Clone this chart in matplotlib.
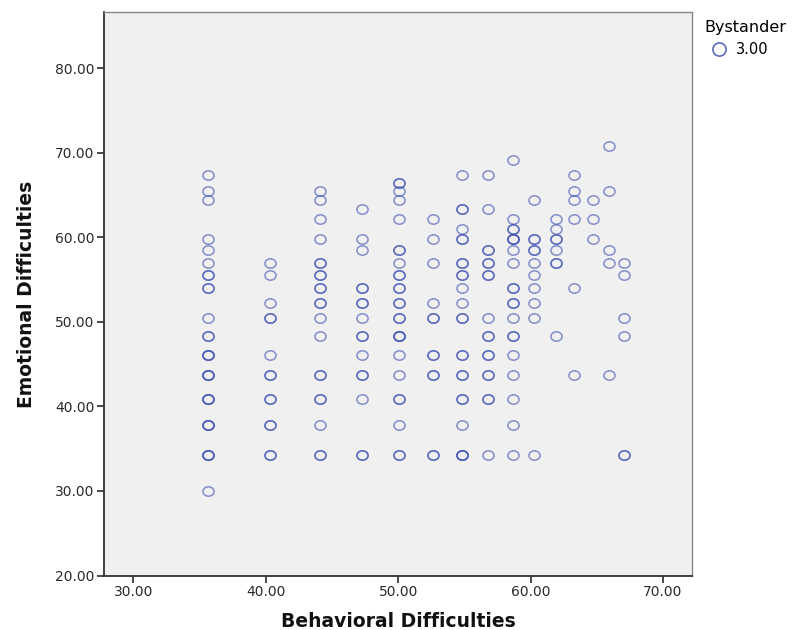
import matplotlib.pyplot as plt
from matplotlib.lines import Line2D
from matplotlib.path import Path
from matplotlib.transforms import Affine2D
from matplotlib.ticker import FormatStrFormatter

# ---------------------------------------------------------------
# Data (repeated values = overlapping cases)
# ---------------------------------------------------------------

behavioral_levels = [35.6, 40.3, 44.1, 47.3, 50.1, 52.6, 54.8, 56.8,
                     58.65, 60.3, 61.9, 63.3, 64.7, 65.9, 67.1]

emotional_by_column = [
    # 35.6
    [67.4, 65.5, 64.4, 59.8, 58.5, 57.0, 55.5, 55.5, 54.0, 54.0, 50.4,
     48.3, 48.3, 46.1, 46.1, 46.1, 43.7, 43.7, 43.7, 40.9, 40.9, 40.9,
     37.85, 37.85, 37.85, 34.3, 34.3, 34.3, 30.0],
    # 40.3
    [57.0, 55.5, 52.2, 50.4, 50.4, 46.1, 43.7, 43.7, 40.9, 40.9,
     37.85, 37.85, 34.3, 34.3],
    # 44.1
    [65.5, 64.4, 62.2, 59.8, 57.0, 57.0, 55.5, 55.5, 54.0, 54.0,
     52.2, 52.2, 50.4, 48.3, 43.7, 43.7, 40.9, 40.9, 37.85, 34.3, 34.3],
    # 47.3
    [63.3, 59.8, 58.5, 54.0, 54.0, 52.2, 52.2, 50.4, 48.3, 48.3,
     46.1, 43.7, 43.7, 40.9, 34.3, 34.3],
    # 50.1
    [66.4, 66.4, 65.5, 64.4, 62.2, 58.5, 58.5, 57.0, 55.5, 55.5,
     54.0, 54.0, 52.2, 52.2, 50.4, 50.4, 48.3, 48.3, 48.3, 46.1,
     43.7, 40.9, 40.9, 37.85, 34.3, 34.3],
    # 52.6
    [62.2, 59.8, 57.0, 52.2, 50.4, 50.4, 46.1, 46.1, 43.7, 43.7, 34.3, 34.3],
    # 54.8
    [67.4, 63.3, 63.3, 61.0, 59.8, 59.8, 57.0, 57.0, 55.5, 55.5, 54.0,
     52.2, 50.4, 50.4, 46.1, 46.1, 43.7, 43.7, 40.9, 40.9, 37.85,
     34.3, 34.3, 34.3],
    # 56.8
    [67.4, 63.3, 58.5, 58.5, 57.0, 57.0, 55.5, 55.5, 50.4, 48.3, 48.3,
     46.1, 46.1, 43.7, 43.7, 40.9, 40.9, 34.3],
    # 58.65
    [69.1, 62.2, 61.0, 61.0, 59.8, 59.8, 59.8, 58.5, 57.0, 54.0, 54.0,
     52.2, 52.2, 50.4, 48.3, 48.3, 46.1, 43.7, 40.9, 37.85, 34.3],
    # 60.3
    [64.4, 59.8, 59.8, 58.5, 58.5, 57.0, 55.5, 54.0, 52.2, 50.4, 34.3],
    # 61.9
    [62.2, 61.0, 59.8, 59.8, 58.5, 57.0, 57.0, 48.3],
    # 63.3
    [67.4, 65.5, 64.4, 62.2, 54.0, 43.7],
    # 64.7
    [64.4, 62.2, 59.8],
    # 65.9
    [70.8, 65.5, 58.5, 57.0, 43.7],
    # 67.1
    [57.0, 55.5, 50.4, 48.3, 34.3, 34.3],
]

x_ticks = [30, 40, 50, 60, 70]
y_ticks = [20, 30, 40, 50, 60, 70, 80]
legend_title = "Bystander"
legend_label = "3.00"

# ---------------------------------------------------------------
# Scatter plot
# ---------------------------------------------------------------

point_color = (0.25, 0.32, 0.71, 0.6)

# slightly flattened circle, as in the SPSS output
oval = Path.unit_circle().transformed(Affine2D().scale(1.0, 0.84))

fig = plt.figure(figsize=(7.94, 6.30), dpi=100)
ax = fig.add_axes([0.1314, 0.0865, 0.7401, 0.894])
ax.set_facecolor("#f0f0f0")

xs = []
ys = []
for bx, col in zip(behavioral_levels, emotional_by_column):
    for ey in col:
        xs.append(bx)
        ys.append(ey)

ax.plot(xs, ys, linestyle="none", marker=oval, markersize=8.0,
        markerfacecolor="none", markeredgecolor=point_color,
        markeredgewidth=1.15)

ax.set_xlim(27.8, 72.2)
ax.set_ylim(20, 86.6)
ax.set_xticks(x_ticks)
ax.set_yticks(y_ticks)
ax.xaxis.set_major_formatter(FormatStrFormatter("%.2f"))
ax.yaxis.set_major_formatter(FormatStrFormatter("%.2f"))
ax.tick_params(axis="both", direction="out", length=5, width=1.2,
               labelsize=10, colors="#2a2a2a", pad=2)

for side in ["left", "bottom"]:
    ax.spines[side].set_color("#333333")
    ax.spines[side].set_linewidth(1.3)
for side in ["top", "right"]:
    ax.spines[side].set_color("#888888")
    ax.spines[side].set_linewidth(1.0)

ax.set_xlabel("Behavioral Difficulties", fontsize=13.5, fontweight="bold",
              color="#111111", labelpad=9)
ax.set_ylabel("Emotional Difficulties", fontsize=13.5, fontweight="bold",
              color="#111111", labelpad=14)

handle = Line2D([], [], linestyle="none", marker="o", markersize=9.5,
                markerfacecolor="none", markeredgecolor=(0.25, 0.32, 0.71, 0.85),
                markeredgewidth=1.2)
leg = fig.legend([handle], [legend_label], title=legend_title,
                 loc="upper left", bbox_to_anchor=(0.874, 0.985),
                 frameon=False, fontsize=10.5, title_fontsize=11.5,
                 handletextpad=0.2, borderpad=0.2, handlelength=2.0)
leg._legend_box.align = "left"

fig.savefig("out.png", dpi=100)
